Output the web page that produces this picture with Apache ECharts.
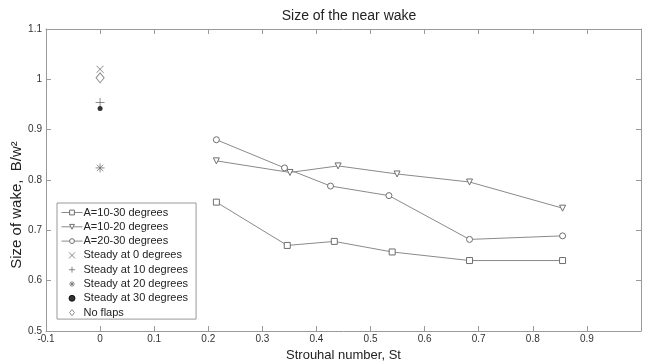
<!DOCTYPE html>
<html>
<head>
<meta charset="utf-8">
<script src="https://cdn.jsdelivr.net/npm/echarts@6/dist/echarts.min.js"></script>
<style>html,body{margin:0;padding:0;background:#fff;}#c{width:646px;height:361px;}</style>
</head>
<body>
<div id="c"></div>
<script>
// Data
const stX = [0.215, 0.346, 0.433, 0.540, 0.683, 0.855];
const a1030 = [0.756, 0.670, 0.678, 0.657, 0.640, 0.640];
const a1020X = [0.215, 0.351, 0.440, 0.549, 0.683, 0.855];
const a1020 = [0.838, 0.815, 0.828, 0.812, 0.796, 0.744];
const a2030X = [0.215, 0.341, 0.426, 0.534, 0.683, 0.855];
const a2030 = [0.880, 0.824, 0.788, 0.769, 0.682, 0.689];
const steady0 = [[0, 1.020]];
const steady10 = [[0, 0.954]];
const steady20 = [[0, 0.824]];
const steady30 = [[0, 0.942]];
const noFlaps = [[0, 1.003]];
const xTicks = [-0.1, 0, 0.1, 0.2, 0.3, 0.4, 0.5, 0.6, 0.7, 0.8, 0.9];

const zip = (xs, ys) => xs.map((x, i) => [x, ys[i]]);
const lineCol = '#8a8a8a';
const mkCol = '#6e6e6e';
const axCol = '#9a9a9a';
const txt = '#333';
const FONT = 'Liberation Sans, Arial';

function lineSeries(name, xs, ys, symbol, rot) {
  return {
    name, type: 'line', data: zip(xs, ys), symbol, symbolSize: 6, symbolRotate: rot || 0,
    lineStyle: {color: lineCol, width: 1},
    itemStyle: {color: '#fff', borderColor: mkCol, borderWidth: 1},
    xAxisIndex: 0, yAxisIndex: 0, z: 3
  };
}
function ptSeries(name, data, symbol, size, filled) {
  return {
    name, type: 'scatter', data, symbol, symbolSize: size,
    itemStyle: filled ? {color: '#000', borderColor: '#000', borderWidth: 0}
                      : {color: 'rgba(0,0,0,0)', borderColor: mkCol, borderWidth: 1},
    xAxisIndex: 0, yAxisIndex: 0, z: 3
  };
}
const fmt = v => String(Math.round(v * 10) / 10);

const chart = echarts.init(document.getElementById('c'), null, {renderer: 'canvas'});
chart.setOption({
  animation: false,
  backgroundColor: '#fff',
  title: {
    text: 'Size of the near wake', left: 344, top: 4, textAlign: 'center',
    textStyle: {fontFamily: FONT, fontSize: 14, fontWeight: 'normal', color: '#222'}
  },
  grid: {left: 46, right: 5, top: 29, bottom: 30, containLabel: false, outerBoundsMode: 'none'},
  legend: {
    orient: 'vertical', left: 57, top: 203, width: 140,
    padding: [4, 8, 1, 4], itemGap: 3.3, itemWidth: 21, itemHeight: 6,
    borderColor: '#999', borderWidth: 1, backgroundColor: '#fff',
    lineStyle: {width: 1, color: lineCol},
    itemStyle: {borderWidth: 1},
    textStyle: {fontFamily: FONT, fontSize: 11, color: '#222', padding: [0, 0, 0, -4]},
    data: ['A=10-30 degrees', 'A=10-20 degrees', 'A=20-30 degrees', 'Steady at 0 degrees',
           'Steady at 10 degrees', 'Steady at 20 degrees', 'Steady at 30 degrees', 'No flaps']
  },
  xAxis: [{
    type: 'value', min: -0.1, max: 1.0, interval: 0.1, position: 'bottom',
    name: 'Strouhal number, St', nameLocation: 'middle', nameGap: 12,
    nameTextStyle: {fontFamily: FONT, fontSize: 13, color: '#222'},
    axisLine: {show: true, onZero: false, lineStyle: {color: axCol}},
    axisTick: {show: true, inside: true, length: 5, lineStyle: {color: axCol}},
    axisLabel: {fontFamily: FONT, fontSize: 10, color: txt, margin: 3,
      formatter: v => (xTicks.some(t => Math.abs(t - v) < 1e-6) ? fmt(v) : '')},
    splitLine: {show: false}
  }, {
    type: 'value', min: -0.1, max: 1.0, interval: 0.1, position: 'top',
    axisLine: {show: true, onZero: false, lineStyle: {color: axCol}},
    axisTick: {show: true, inside: true, length: 5, lineStyle: {color: axCol}},
    axisLabel: {show: false}, splitLine: {show: false}
  }],
  yAxis: [{
    type: 'value', min: 0.5, max: 1.1, interval: 0.1, position: 'left',
    name: 'Size of wake,  B/w²', nameLocation: 'middle', nameGap: 22, nameRotate: 90,
    nameMoveOverlap: false,
    nameTextStyle: {fontFamily: FONT, fontSize: 15, color: '#222', padding: [0, 50, 0, 0]},
    axisLine: {show: true, onZero: false, lineStyle: {color: axCol}},
    axisTick: {show: true, inside: true, length: 5, lineStyle: {color: axCol}},
    axisLabel: {fontFamily: FONT, fontSize: 10, color: txt, margin: 4, formatter: fmt},
    splitLine: {show: false}
  }, {
    type: 'value', min: 0.5, max: 1.1, interval: 0.1, position: 'right',
    axisLine: {show: true, onZero: false, lineStyle: {color: axCol}},
    axisTick: {show: true, inside: true, length: 5, lineStyle: {color: axCol}},
    axisLabel: {show: false}, splitLine: {show: false}
  }],
  series: [
    lineSeries('A=10-30 degrees', stX, a1030, 'rect'),
    lineSeries('A=10-20 degrees', a1020X, a1020, 'triangle', 180),
    lineSeries('A=20-30 degrees', a2030X, a2030, 'circle'),
    ptSeries('Steady at 0 degrees', steady0, 'path://M0,0L10,10M10,0L0,10', 7, false),
    ptSeries('Steady at 10 degrees', steady10, 'path://M5,0L5,10M0,5L10,5', 9, false),
    ptSeries('Steady at 20 degrees', steady20, 'path://M5,0L5,10M0,5L10,5M1.5,1.5L8.5,8.5M8.5,1.5L1.5,8.5', 9, false),
    ptSeries('Steady at 30 degrees', steady30, 'circle', 5, true),
    ptSeries('No flaps', noFlaps, 'path://M5,0L10,6L5,12L0,6Z', [8, 10], false)
  ]
});
</script>
</body>
</html>
